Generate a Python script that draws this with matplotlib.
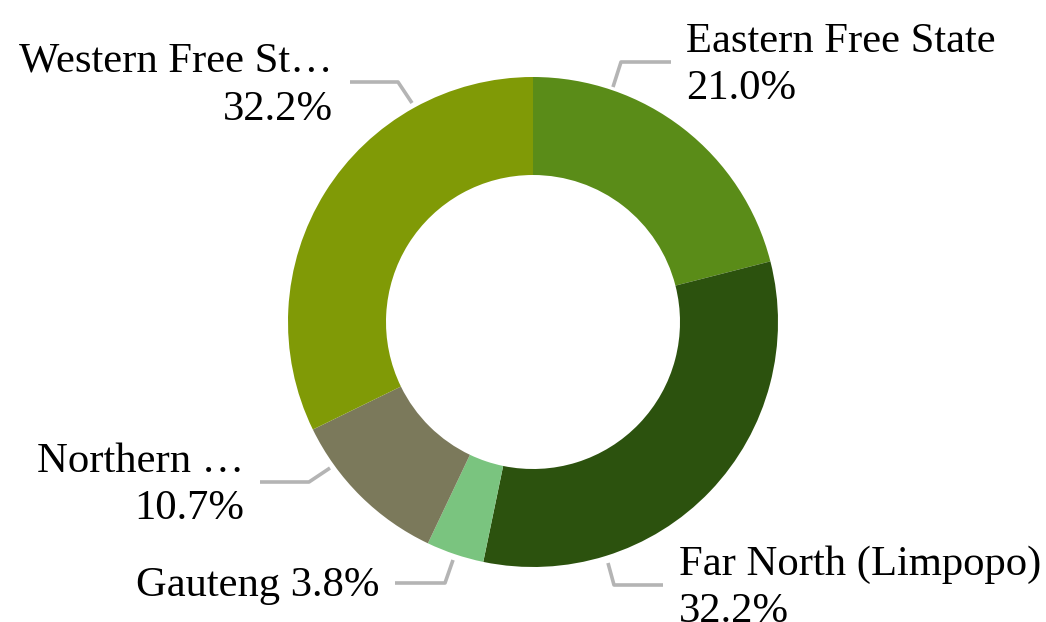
import numpy as np
import matplotlib.pyplot as plt

# ======================================================
# DATA
# ======================================================
regions = ["Eastern Free State", "Far North (Limpopo)", "Gauteng",
           "Northern Cape", "Western Free State"]
shares = [21.0, 32.2, 3.8, 10.7, 32.2]
shown_names = ["Eastern Free State", "Far North (Limpopo)", "Gauteng",
               "Northern …", "Western Free St…"]
colors = ["#5a8c18", "#2c520e", "#7ac47f", "#7b795b", "#809a06"]

# ======================================================
# FIGURE (axes in pixel units, y upwards)
# ======================================================
W, H = 1046, 622
fig = plt.figure(figsize=(W / 100, H / 100), dpi=100)
ax = fig.add_axes([0, 0, 1, 1])

cx, cy = 533, H - 322
r_out, r_in = 245, 147

ax.pie(shares, colors=colors, startangle=90, counterclock=False,
       radius=r_out, center=(cx, cy), frame=True,
       wedgeprops=dict(width=r_out - r_in, linewidth=0))
ax.set_xlim(0, W)
ax.set_ylim(0, H)
ax.set_aspect("equal")
ax.axis("off")

# ======================================================
# LABELS + LEADER LINES (pixel positions, y from top)
# ======================================================
font = dict(family="Liberation Serif", fontsize=30.7, color="black")
line_kw = dict(color="#b4b4b4", linewidth=2.6, solid_capstyle="butt")

def flip(pts):
    return [p[0] for p in pts], [H - p[1] for p in pts]

# (leader points, text x, alignment, baselines, one-line?)
layout = [
    ([(613, 87), (621, 62), (671, 62)], 686, "left", [52, 99], False),
    ([(608, 563), (614, 585), (663, 585)], 679, "left", [575, 622], False),
    ([(453, 560), (445, 583), (395, 583)], 379, "right", [596], True),
    ([(330, 468), (309, 482), (260, 482)], 244, "right", [472, 519], False),
    ([(412, 103), (398, 82), (350, 82)], 333, "right", [72, 120], False),
]

for name, val, (pts, tx, ha, bases, single) in zip(shown_names, shares, layout):
    xs, ys = flip(pts)
    ax.plot(xs, ys, **line_kw)
    if single:
        lines = [f"{name} {val:.1f}%"]
    else:
        lines = [name, f"{val:.1f}%"]
    for txt, b in zip(lines, bases):
        ax.text(tx, H - b, txt, ha=ha, va="baseline", **font)

fig.savefig("out.png", dpi=100)
